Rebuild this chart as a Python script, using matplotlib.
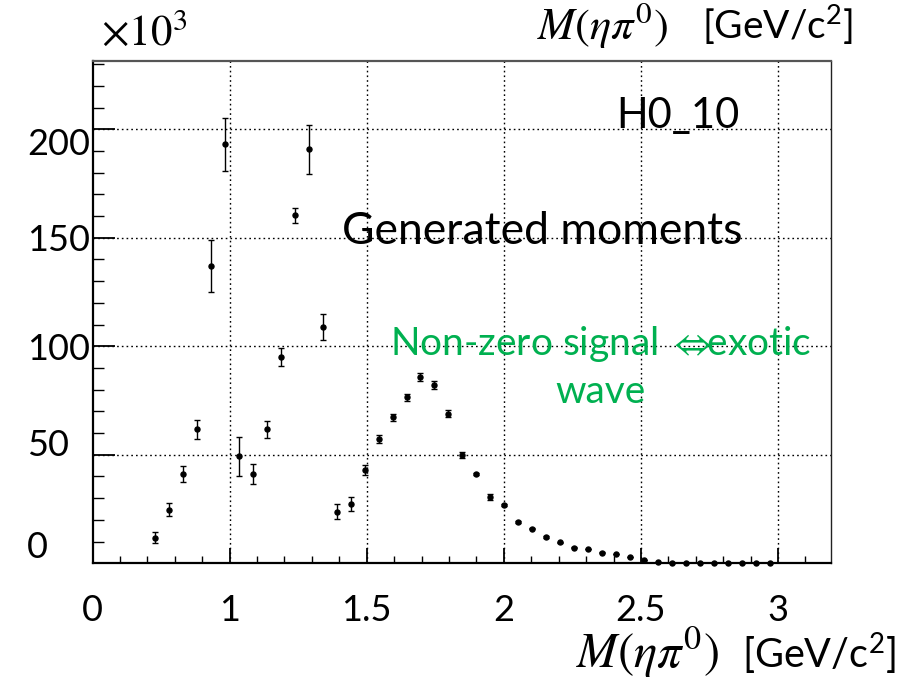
import matplotlib
matplotlib.use("Agg")
import matplotlib.pyplot as plt
from matplotlib.ticker import MultipleLocator, FixedLocator

plt.rcParams['font.family'] = ['Lato', 'DejaVu Sans']
plt.rcParams['mathtext.fontset'] = 'stix'

# ---------------- data ----------------
mass = [0.729, 0.780, 0.831, 0.881, 0.932, 0.983, 1.034, 1.085, 1.136, 1.187,
        1.238, 1.289, 1.340, 1.391, 1.442, 1.493, 1.544, 1.595, 1.646, 1.696,
        1.747, 1.798, 1.849, 1.900, 1.951, 2.001, 2.052, 2.103, 2.154, 2.205,
        2.256, 2.307, 2.358, 2.409, 2.460, 2.511, 2.562, 2.613, 2.664, 2.715,
        2.766, 2.817, 2.868, 2.919, 2.970]
h0_10 = [11.8, 24.6, 41.0, 61.7, 137.1, 193.1, 49.3, 41.1, 61.7, 95.1,
         160.4, 190.8, 109.0, 23.8, 27.3, 43.0, 57.3, 67.3, 76.5, 85.7,
         82.0, 68.9, 49.9, 41.3, 30.6, 26.7, 19.2, 15.9, 12.1, 9.7,
         7.2, 6.6, 4.9, 4.3, 2.9, 1.5, 0.7, 0.2, 0.2, 0.2,
         0.2, 0.1, 0.1, 0.1, 0.1]
h0_10_err = [2.5, 3.0, 3.7, 4.2, 12.1, 12.3, 9.1, 4.7, 3.8, 4.3,
             3.5, 11.3, 6.1, 3.3, 3.1, 2.5, 1.7, 1.5, 1.5, 1.8,
             1.8, 1.7, 1.3, 0.5, 1.4, 0.5, 0.4, 0.3, 0.3, 0.3,
             0.2, 0.2, 0.2, 0.2, 0.2, 0.1, 0.1, 0.1, 0.1, 0.1,
             0.1, 0.1, 0.1, 0.1, 0.1]

xtick_values = [0.5, 1.0, 1.5, 2.0, 2.5, 3.0]
xtick_labels = ["0", "1", "1.5", "2", "2.5", "3"]
ytick_values = [0, 50, 100, 150, 200]
ytick_labels = ["0", "50", "100", "150", "200"]

# ---------------- layout ----------------
W, H = 904, 679
fig = plt.figure(figsize=(W / 100, H / 100), dpi=100)

def fx(px):
    return px / W

def fy(py):
    return 1 - py / H

ax_left, ax_right, ax_top, ax_bottom = 92.5, 831.5, 60.5, 563.3
ax = fig.add_axes([fx(ax_left), fy(ax_bottom), (ax_right - ax_left) / W,
                   (ax_bottom - ax_top) / H])
ax.set_xlim(0.5, 3.195)
ax.set_ylim(0, 231.7)

ax.errorbar(mass, h0_10, yerr=h0_10_err, fmt='o', color='black', ms=3.6,
            elinewidth=1.0, capsize=2.0, capthick=1.0, clip_on=False, zorder=3)

# grid
for xv in xtick_values[1:]:
    ax.axvline(xv, color='black', lw=1.0, ls=(0, (1.2, 2.2)), zorder=1)
for yv in ytick_values:
    ax.axhline(yv, color='black', lw=1.0, ls=(0, (1.2, 2.2)), zorder=1)

# spines
ax.spines['left'].set_linewidth(1.6)
ax.spines['bottom'].set_linewidth(1.6)
ax.spines['top'].set_color('#555555')
ax.spines['top'].set_linewidth(1.6)
ax.spines['right'].set_color('#222222')
ax.spines['right'].set_linewidth(1.0)

# ticks
ax.xaxis.set_major_locator(FixedLocator(xtick_values))
ax.set_xticklabels(xtick_labels)
ax.xaxis.set_minor_locator(MultipleLocator(0.1))
ax.yaxis.set_major_locator(FixedLocator(ytick_values))
ax.yaxis.set_minor_locator(MultipleLocator(10))
ax.set_yticklabels([])
ax.tick_params(axis='x', which='major', direction='in', length=10.8, width=1.3,
               labelsize=26, pad=22, top=False)
ax.tick_params(axis='x', which='minor', direction='in', length=5, width=1.0, top=False)
ax.tick_params(axis='y', which='major', direction='in', length=15.8, width=1.3,
               right=False)
ax.tick_params(axis='y', which='minor', direction='in', length=7.9, width=1.0,
               right=False)

# y tick labels drawn as left-aligned text (as in the reference)
ylabel_baseline_px = [558, 456, 359.7, 251, 155]
for lab, py in zip(ytick_labels, ylabel_baseline_px):
    fig.text(fx(27), fy(py), lab, ha='left', va='baseline', fontsize=26)

# scale factor
fig.text(fx(101), fy(45), r'$\times10^{3}$', ha='left', va='baseline', fontsize=31)

# axis titles (top and bottom)
fig.text(fx(668), fy(39), r'$M(\eta\pi^{0})$', ha='right', va='baseline', fontsize=32)
fig.text(fx(702), fy(39), r'$\mathregular{[GeV/c^{2}]}$', ha='left', va='baseline',
         fontsize=28)
fig.text(fx(719), fy(668), r'$M(\eta\pi^{0})$', ha='right', va='baseline', fontsize=35)
fig.text(fx(742), fy(668), r'$\mathregular{[GeV/c^{2}]}$', ha='left', va='baseline',
         fontsize=28.5)

# annotations
fig.text(fx(740), fy(128), 'H0_10', ha='right', va='baseline', fontsize=30)
fig.text(fx(341.7), fy(244), 'Generated moments', ha='left', va='baseline', fontsize=32)
fig.text(fx(600.5), fy(355), r'Non-zero signal ${\Leftrightarrow}\!\!$exotic',
         ha='center', va='baseline', fontsize=28, color='#00B050')
fig.text(fx(600), fy(403), 'wave', ha='center', va='baseline', fontsize=28,
         color='#00B050')

fig.savefig('out.png', dpi=100)
